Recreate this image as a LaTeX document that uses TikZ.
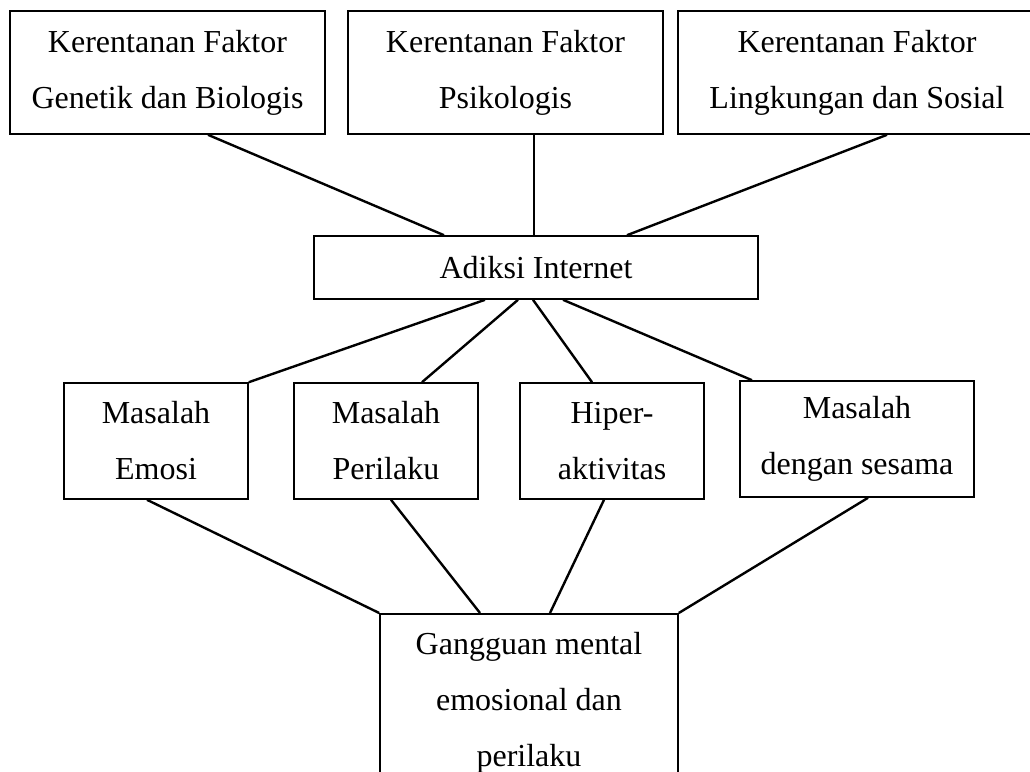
\documentclass[tikz,border=0pt]{standalone}
\usepackage{fontspec}
\setmainfont{Liberation Serif}
\begin{document}
\begin{tikzpicture}[x=1pt,y=-1pt,
  box/.style={draw,line width=1.6pt,inner sep=0pt,align=center,
    font=\fontsize{32}{56}\selectfont},
  link/.style={line width=2.4pt}]
\useasboundingbox (0,0) rectangle (1030,771);
\clip (0,0) rectangle (1030,771);
\node[box,minimum width=315,minimum height=123] (f1) at (167.5,72.5) {Kerentanan Faktor\\Genetik dan Biologis};
\node[box,minimum width=315,minimum height=123] (f2) at (505.5,72.5) {Kerentanan Faktor\\Psikologis};
\node[box,minimum width=358,minimum height=123] (f3) at (857,72.5) {Kerentanan Faktor\\Lingkungan dan Sosial};
\node[box,minimum width=444,minimum height=63] (ai) at (536,267.5) {Adiksi Internet};
\node[box,minimum width=184,minimum height=116] (m1) at (156,441) {Masalah\\Emosi};
\node[box,minimum width=184,minimum height=116] (m2) at (386,441) {Masalah\\Perilaku};
\node[box,minimum width=184,minimum height=116] (m3) at (612,441) {Hiper-\\aktivitas};
\node[box,minimum width=234,minimum height=116] (m4) at (857,439) {Masalah\\dengan sesama};
\node[box,anchor=north,minimum width=298,inner ysep=18pt] (g) at (529,613) {Gangguan mental\\emosional dan\\perilaku};
\draw[link] (f1.south -| 208,0) -- (ai.north -| 444,0);
\draw[link] (f2.south -| 534,0) -- (ai.north -| 534,0);
\draw[link] (f3.south -| 887,0) -- (ai.north -| 627,0);
\draw[link] (ai.south -| 485,0) -- (m1.north east);
\draw[link] (ai.south -| 518,0) -- (m2.north -| 422,0);
\draw[link] (ai.south -| 533,0) -- (m3.north -| 592,0);
\draw[link] (ai.south -| 563,0) -- (m4.north -| 752,0);
\draw[link] (m1.south -| 147,0) -- (g.north west);
\draw[link] (m2.south -| 391,0) -- (g.north -| 480,0);
\draw[link] (m3.south -| 604,0) -- (g.north -| 550,0);
\draw[link] (m4.south -| 868,0) -- (g.north east);
\end{tikzpicture}
\end{document}
